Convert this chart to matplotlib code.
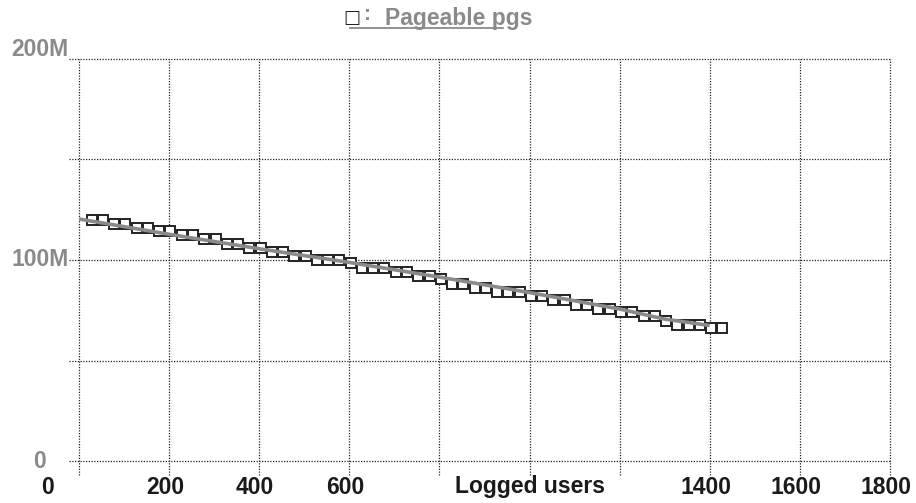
import numpy as np
from matplotlib import pyplot as plt
from matplotlib.lines import Line2D
import matplotlib.transforms as mtransforms

plt.rcParams['font.family'] = ['Liberation Sans', 'DejaVu Sans']

# marker data: logged users vs pageable pages (millions)
users = 28 + 25 * np.arange(57)
levels = [120.1, 118.0, 115.8, 114.2, 112.5, 110.5, 108.1, 105.9, 104.2, 102.2,
          100.2, 98.6, 95.9, 93.9, 91.9, 90.3, 88.2, 86.2, 84.3, 82.0,
          79.9, 77.7, 75.7, 74.0, 72.0, 69.9, 67.8, 66.1]
repeats = [2, 2, 2, 2, 2, 2, 2, 2, 2, 2,
           3, 1, 3, 2, 2, 1, 2, 2, 3, 2,
           2, 2, 2, 2, 2, 1, 3, 2]
pages = np.repeat(levels, repeats) * 1e6

# trend line through the points
trend_x = [0, 200, 400, 600, 800, 1000, 1200, 1300, 1400]
trend_y = np.array([120.4, 112.8, 105.6, 98.8, 91.5, 83.8, 75.6, 70.6, 67.4]) * 1e6

x_ticks = [0, 200, 400, 600, 800, 1000, 1200, 1400, 1600, 1800]
x_labels = {0: '0', 200: '200', 400: '400', 600: '600',
            1400: '1400', 1600: '1600', 1800: '1800'}
y_ticks = [0, 50e6, 100e6, 150e6, 200e6]
y_labels = {0: '0', 100e6: '100M', 200e6: '200M'}

fig = plt.figure(figsize=(9.16, 5.03), dpi=100)
ax = fig.add_axes([79 / 916, 1 - 461 / 503, 811 / 916, 402 / 503])
ax.set_xlim(0, 1800)
ax.set_ylim(0, 200e6)
ax.axis('off')

grid_kw = dict(color='#222222', lw=0.9, ls=(0, (1, 1.2)), clip_on=False, zorder=1)
for xv in x_ticks:
    ax.axvline(xv, ymin=-0.035, ymax=1.0, **grid_kw)
for yv in y_ticks:
    ax.axhline(yv, xmin=-0.012, xmax=1.0, **grid_kw)

ax.plot(users, pages, ls='none', marker='s', ms=7.7, mfc='white',
        mec='#222222', mew=1.4, zorder=2)
ax.plot(trend_x, trend_y, color='#8a8a8a', lw=2.6, zorder=3,
        solid_capstyle='butt')

# x tick labels
xt = mtransforms.blended_transform_factory(ax.transData, ax.transAxes)
for xv, lab in x_labels.items():
    off = mtransforms.ScaledTranslation(-4 / 100, 0, fig.dpi_scale_trans)
    if xv == 0:
        off = mtransforms.ScaledTranslation(-32 / 100, 0, fig.dpi_scale_trans)
    ax.text(xv, -26 / 402, lab, transform=xt + off, ha='center', va='center',
            fontsize=16.5, fontweight='bold', color='#1a1a1a')
ax.text(1000, -26 / 402, 'Logged users', transform=xt, ha='center',
        va='center', fontsize=16.5, fontweight='bold', color='#1a1a1a')

# y tick labels
yt = mtransforms.blended_transform_factory(ax.transAxes, ax.transData)
for yv, lab in y_labels.items():
    dy = 9 / 100 if yv == 200e6 else 0
    off = mtransforms.ScaledTranslation(0, dy, fig.dpi_scale_trans)
    ax.text(-39 / 811, yv, lab, transform=yt + off, ha='center', va='center',
            fontsize=16.5, fontweight='bold', color='#8a8a8a')

# legend at top
fig.text(352 / 916, 1 - 18 / 503, '\u25a1', ha='center', va='center',
         fontsize=13, color='#222222', family=['DejaVu Sans'])
fig.text(367 / 916, 1 - 15 / 503, ':', ha='center', va='center',
         fontsize=15, fontweight='bold', color='#8a8a8a')
fig.text(385 / 916, 1 - 18 / 503, 'Pageable pgs', ha='left', va='center',
         fontsize=16.5, fontweight='bold', color='#8a8a8a')
fig.add_artist(Line2D([350 / 916, 503 / 916], [1 - 28 / 503, 1 - 28 / 503],
                      transform=fig.transFigure, color='#8a8a8a', lw=1.3))

fig.savefig('out.png', dpi=100)
